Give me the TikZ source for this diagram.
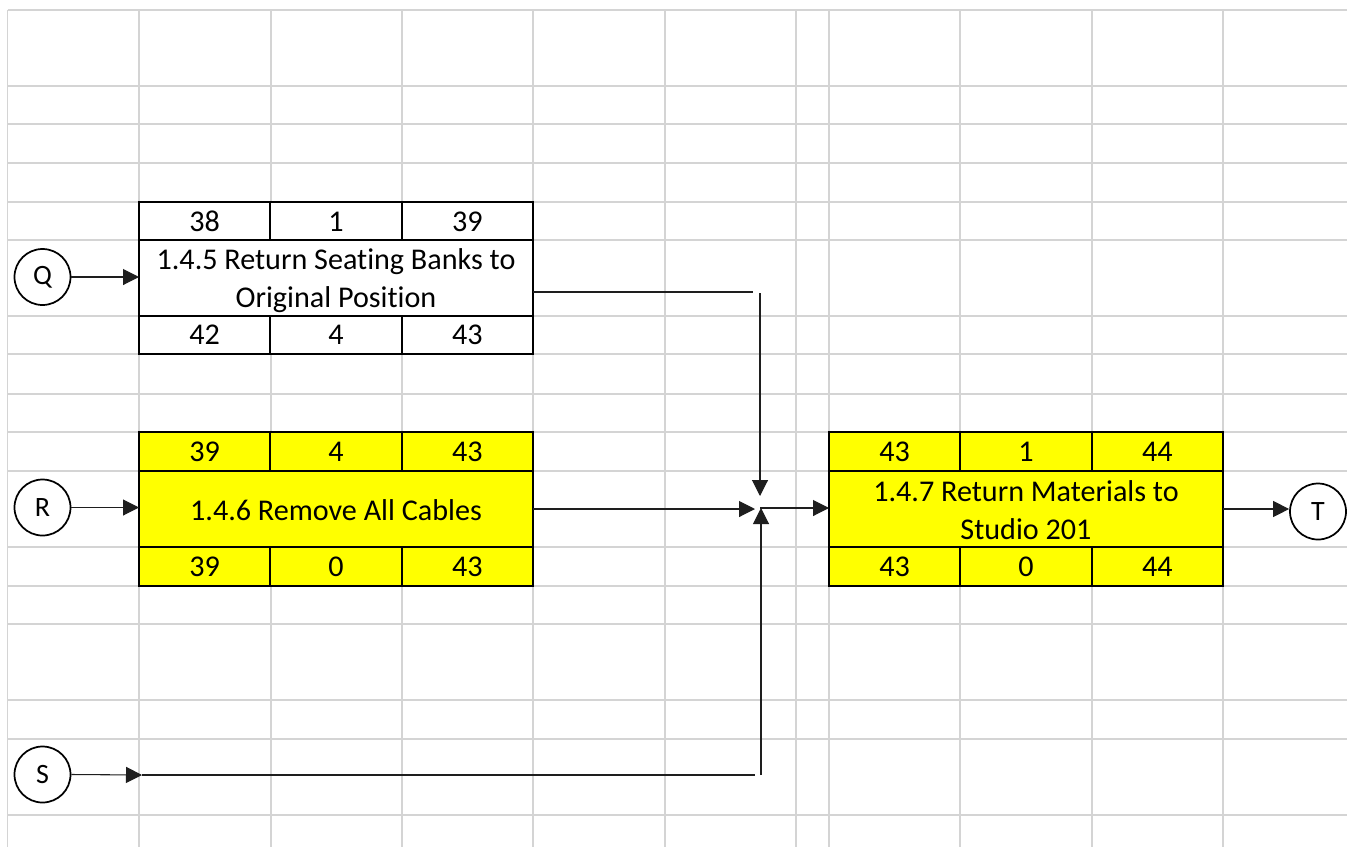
\documentclass[tikz,border=0pt]{standalone}
\usepackage{fontspec}
\setmainfont[Ligatures=NoCommon]{Carlito}
\usetikzlibrary{arrows.meta}
\definecolor{gridgray}{RGB}{212,212,212}
\definecolor{boxyellow}{RGB}{255,255,0}
\definecolor{lineclr}{RGB}{30,30,30}
\begin{document}
\begin{tikzpicture}[x=0.75pt,y=-0.75pt,
  font=\fontsize{22.6}{28.5}\selectfont,
  gridline/.style={draw=gridgray,line width=1pt},
  cell/.style={draw=black,line width=1.3pt,inner sep=0pt,outer sep=0pt,
    minimum width=98.5pt,minimum height=28.9pt,anchor=center},
  midcell/.style={draw=black,line width=1.3pt,inner sep=0pt,outer sep=0pt,
    minimum width=295.5pt,minimum height=57pt,align=center,anchor=center},
  celltext/.style={inner sep=0pt,align=center,anchor=center},
  ev/.style={circle,draw=black,line width=1.3pt,fill=white,minimum size=42pt,
    inner sep=0pt,font=\fontsize{21}{22}\selectfont},
  arr/.style={-{Triangle[length=12pt,width=12pt]},line width=0.8pt,draw=lineclr},
  conn/.style={line width=0.9pt,draw=lineclr}]
\useasboundingbox (0,0) rectangle (1347,847);
\fill[white] (0,0) rectangle (1347,847);
% spreadsheet grid
\foreach \x in {7.5,139,271,402,533,665,796,829,960,1092,1223}
  \draw[gridline] (\x,10) -- (\x,847);
\foreach \y in {10,86,124,163,202,240,316,354,394,432,471,547,586,624,700,739,815}
  \draw[gridline] (7.5,\y) -- (1347,\y);
% task 1.4.5
\node[cell,fill=white] (qa) at (204.67,221.5) {38};
\node[cell,fill=white] (qb) at (336,221.5) {1};
\node[cell,fill=white] (qc) at (467.33,221.5) {39};
\node[midcell,fill=white] (qm) at (336,278) {};
\node[celltext] (qmt) at (336,280.5) {1.4.5 Return Seating Banks to\\Original Position};
\node[cell,fill=white] (qd) at (204.67,335) {42};
\node[cell,fill=white] (qe) at (336,335) {4};
\node[cell,fill=white] (qf) at (467.33,335) {43};
% task 1.4.6
\node[cell,fill=boxyellow] (ra) at (204.67,451.5) {39};
\node[cell,fill=boxyellow] (rb) at (336,451.5) {4};
\node[cell,fill=boxyellow] (rc) at (467.33,451.5) {43};
\node[midcell,fill=boxyellow] (rm) at (336,509) {};
\node[celltext] (rmt) at (336,510) {1.4.6 Remove All Cables};
\node[cell,fill=boxyellow] (rd) at (204.67,566.5) {39};
\node[cell,fill=boxyellow] (re) at (336,566.5) {0};
\node[cell,fill=boxyellow] (rf) at (467.33,566.5) {43};
% task 1.4.7
\node[cell,fill=boxyellow] (ta) at (894.67,451.5) {43};
\node[cell,fill=boxyellow] (tb) at (1026,451.5) {1};
\node[cell,fill=boxyellow] (tc) at (1157.33,451.5) {44};
\node[midcell,fill=boxyellow] (tm) at (1026,509) {};
\node[celltext] (tmt) at (1026,510) {1.4.7 Return Materials to\\Studio 201};
\node[cell,fill=boxyellow] (td) at (894.67,566.5) {43};
\node[cell,fill=boxyellow] (te) at (1026,566.5) {0};
\node[cell,fill=boxyellow] (tf) at (1157.33,566.5) {44};
% events
\node[ev] (Q) at (42.5,277) {Q};
\node[ev] (R) at (42.5,507.5) {R};
\node[ev] (S) at (42.5,774.5) {S};
\node[ev] (T) at (1318,511.5) {T};
% junction coordinates
\coordinate (qo) at (533,292);
\coordinate (qh) at (753,292);
\coordinate (qv) at (760,293);
\coordinate (Jn) at (760,496);
\coordinate (Jw) at (755,509);
\coordinate (Js) at (761,508);
\coordinate (J) at (760,508);
\coordinate (s1) at (142,775);
\coordinate (sh) at (755,775);
\coordinate (sv) at (761,775);
% connectors
\draw[arr] (Q.east) -- (Q.east -| qm.west);
\draw[arr] (R.east) -- (R.east -| rm.west);
\draw[arr] (S.east) -- (s1);
\draw[conn] (s1) -- (sh);
\draw[arr] (sv) -- (Js);
\draw[conn] (qo) -- (qh);
\draw[arr] (qv) -- (Jn);
\draw[arr] (rm.east) -- (rm.east -| Jw);
\draw[arr] (J) -- (J -| tm.west);
\draw[arr] (tm.east) -- (tm.east -| T.west);
\end{tikzpicture}
\end{document}
